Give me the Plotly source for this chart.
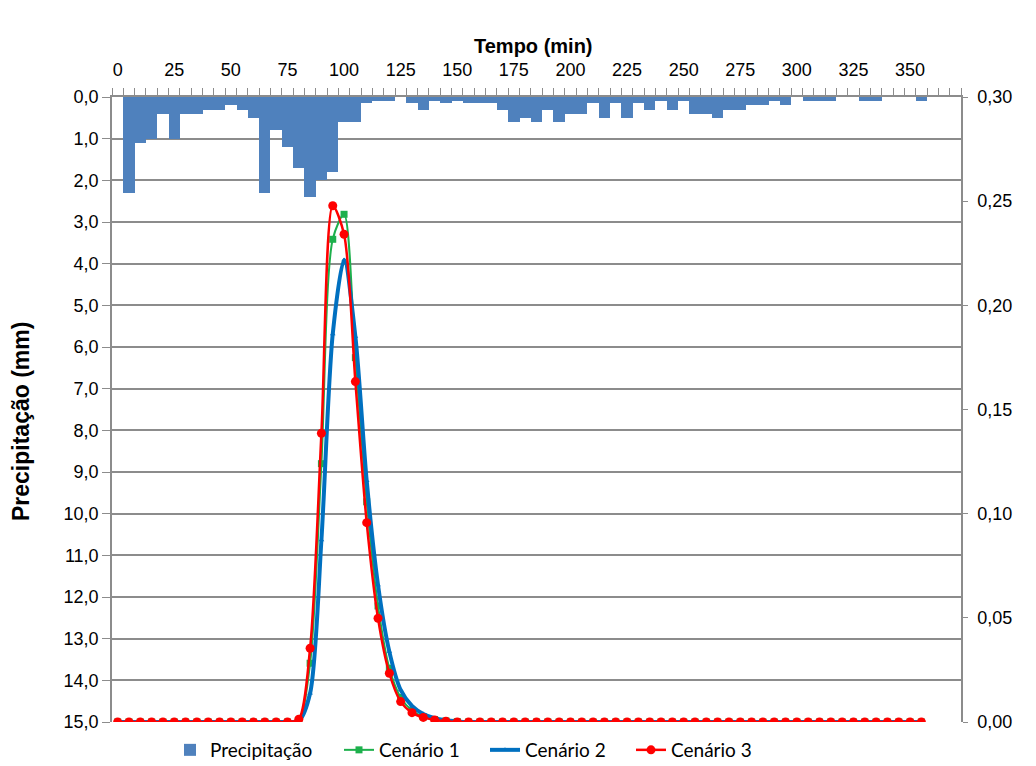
import plotly.graph_objects as go

# ---- data ----
tempo_bars = [5 * k for k in range(75)]  # 0..370 min
precipitacao = [0, 2.3, 1.1, 1.0, 0.4, 1.0, 0.4, 0.4, 0.3, 0.3,
                0.2, 0.3, 0.5, 2.3, 0.8, 1.2, 1.7, 2.4, 2.0, 1.8,
                0.6, 0.6, 0.15, 0.1, 0.1, 0, 0.15, 0.3, 0.1, 0.15,
                0.1, 0.15, 0.15, 0.15, 0.3, 0.6, 0.5, 0.6, 0.3, 0.6,
                0.4, 0.4, 0.15, 0.5, 0.15, 0.5, 0.15, 0.3, 0.1, 0.3,
                0.1, 0.4, 0.4, 0.5, 0.3, 0.3, 0.2, 0.2, 0.1, 0.2,
                0, 0.1, 0.1, 0.1, 0, 0, 0.1, 0.1, 0, 0,
                0, 0.1, 0, 0, 0]

tempo_linhas = [5 * k for k in range(72)]  # 0..355 min
_zeros_before = [0] * 16
cenario1 = _zeros_before + [0.0008, 0.0282, 0.124, 0.2317, 0.2437, 0.1749, 0.1057, 0.0557,
                            0.0258, 0.0118, 0.0055, 0.0025, 0.0012, 0.0005, 0.0002] + [0] * 41
cenario2 = _zeros_before + [0.0005, 0.0138, 0.0874, 0.1862, 0.2218, 0.185, 0.1158, 0.0658,
                            0.0338, 0.0154, 0.0077, 0.0038, 0.0018, 0.0008, 0.0003] + [0] * 41
cenario3 = _zeros_before + [0.0013, 0.0354, 0.1386, 0.2478, 0.2341, 0.1634, 0.0957, 0.0498,
                            0.0234, 0.0098, 0.0045, 0.0022, 0.001, 0.0004, 0.0] + [0] * 41

x_ticks = list(range(0, 351, 25))

GRID = "#8c8c8c"
FONT = "Liberation Sans, Arial, sans-serif"
LEG_FONT = dict(family="Lato, Carlito, sans-serif", size=19)

W, H = 1036, 766
L, T = 112, 97
R = W - 961
B = H - 722
plot_w = W - L - R
plot_h = H - T - B


def px(sx):
    return (sx - L) / plot_w


def py(sy):
    return (H - B - sy) / plot_h


fig = go.Figure()
fig.add_trace(go.Bar(x=tempo_bars, y=precipitacao, width=5, name="Precipitação", legend="legend",
                     marker=dict(color="#4F81BD", line=dict(width=0))))
fig.add_trace(go.Scatter(x=tempo_linhas, y=cenario1, name="Cenário 1", yaxis="y2", legend="legend2",
                         mode="lines+markers", line=dict(color="#1DB04C", width=2, shape="spline", smoothing=0.8),
                         marker=dict(symbol="square", size=7, color="#1DB04C")))
fig.add_trace(go.Scatter(x=tempo_linhas, y=cenario2, name="Cenário 2", yaxis="y2", legend="legend2",
                         mode="lines+markers", line=dict(color="#0070C0", width=4, shape="spline", smoothing=0.8),
                         marker=dict(symbol="triangle-up", size=5, color="#0070C0")))
fig.add_trace(go.Scatter(x=tempo_linhas, y=cenario3, name="Cenário 3", yaxis="y2", legend="legend2",
                         mode="lines+markers", line=dict(color="#FF0000", width=2.5, shape="spline", smoothing=0.8),
                         marker=dict(symbol="circle", size=9, color="#FF0000")))

fig.update_layout(
    width=W, height=H,
    margin=dict(l=L, r=R, t=T, b=B),
    paper_bgcolor="white", plot_bgcolor="white",
    separators=",.",
    bargap=0,
    showlegend=True,
    font=dict(family=FONT, size=18, color="#000000"),
    xaxis=dict(side="top", range=[-2.5, 372.5], tickmode="array", tickvals=x_ticks,
               ticks="", showgrid=False, zeroline=False, showline=True, linecolor=GRID, linewidth=1.5,
               ticklabelstandoff=12, automargin=False,
               minor=dict(tickmode="linear", tick0=-2.5, dtick=5, ticks="outside", ticklen=7,
                          tickcolor=GRID, showgrid=False)),
    yaxis=dict(range=[15, 0], tickmode="linear", tick0=0, dtick=1, tickformat=".1f",
               showgrid=True, gridcolor=GRID, gridwidth=1.5, zeroline=False, automargin=False,
               showline=True, linecolor=GRID, linewidth=1.5, ticks="outside", ticklen=8, tickcolor=GRID),
    yaxis2=dict(overlaying="y", side="right", range=[0, 0.30], tickmode="linear", tick0=0, dtick=0.05,
                tickformat=".2f", showgrid=False, zeroline=False, showline=True, linecolor=GRID,
                automargin=False,
                linewidth=1.5, ticks="outside", ticklen=5, tickcolor=GRID, ticklabelstandoff=6),
    legend=dict(orientation="h", xref="container", yref="container",
                x=170 / W, xanchor="left", y=1 - 750 / H, yanchor="middle",
                font=LEG_FONT, bgcolor="rgba(0,0,0,0)"),
    legend2=dict(orientation="h", xref="container", yref="container",
                 x=339 / W, xanchor="left", y=1 - 750 / H, yanchor="middle",
                 entrywidth=101, entrywidthmode="pixels",
                 font=LEG_FONT, bgcolor="rgba(0,0,0,0)"),
    annotations=[
        dict(text="<b>Tempo (min)</b>", x=px(533), y=py(46),
             xref="paper", yref="paper", showarrow=False,
             font=dict(size=20), xanchor="center", yanchor="middle"),
        dict(text="<b>Precipitação (mm)</b>", x=px(21), y=py(422),
             xref="paper", yref="paper", showarrow=False,
             font=dict(size=23), textangle=-90, xanchor="center", yanchor="middle"),
    ],
)

# remove the browser's default page margin so the figure fills the window exactly
fig.write_html("out.html", config={"displayModeBar": False},
               post_script="document.body.style.margin='0';")
